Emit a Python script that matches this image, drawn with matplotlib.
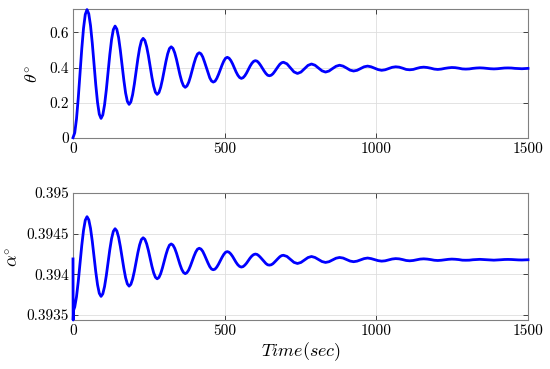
import numpy as np
import matplotlib
matplotlib.use('Agg')
import matplotlib.pyplot as plt

# sample times (sec): eighth steps between turning points up to ~690 s,
# quarter steps after that, plus the end point
time_sec = np.concatenate([np.arange(120) * 5.78125,
                           693.75 + np.arange(70) * 11.5625,
                           [1500.0]])

# theta (deg)
theta_deg = [
    0.000, 0.028, 0.107, 0.225, 0.365, 0.505, 0.623, 0.702,
    0.730, 0.706, 0.639, 0.539, 0.420, 0.301, 0.201, 0.134,
    0.110, 0.130, 0.187, 0.272, 0.373, 0.474, 0.559, 0.616,
    0.636, 0.619, 0.571, 0.498, 0.413, 0.328, 0.255, 0.207,
    0.190, 0.204, 0.245, 0.306, 0.378, 0.450, 0.511, 0.552,
    0.566, 0.554, 0.519, 0.468, 0.407, 0.345, 0.294, 0.259,
    0.247, 0.257, 0.287, 0.331, 0.383, 0.434, 0.478, 0.508,
    0.518, 0.509, 0.484, 0.447, 0.403, 0.358, 0.321, 0.296,
    0.287, 0.295, 0.316, 0.348, 0.386, 0.423, 0.455, 0.477,
    0.484, 0.478, 0.460, 0.432, 0.401, 0.369, 0.341, 0.323,
    0.317, 0.322, 0.338, 0.361, 0.388, 0.414, 0.437, 0.453,
    0.458, 0.453, 0.440, 0.421, 0.398, 0.375, 0.356, 0.343,
    0.338, 0.342, 0.353, 0.369, 0.389, 0.408, 0.424, 0.435,
    0.439, 0.436, 0.426, 0.412, 0.396, 0.380, 0.366, 0.356,
    0.353, 0.356, 0.364, 0.377, 0.392, 0.406, 0.419, 0.427,
    0.430, 0.421, 0.398, 0.375,
    0.366, 0.374, 0.393, 0.412,
    0.420, 0.413, 0.397, 0.381,
    0.374, 0.380, 0.394, 0.407,
    0.413, 0.408, 0.397, 0.385,
    0.380, 0.384, 0.394, 0.404,
    0.408, 0.404, 0.396, 0.388,
    0.384, 0.387, 0.394, 0.401,
    0.404, 0.402, 0.396, 0.389,
    0.387, 0.389, 0.395, 0.400,
    0.402, 0.400, 0.396, 0.391,
    0.389, 0.391, 0.395, 0.398,
    0.400, 0.399, 0.396, 0.392,
    0.391, 0.392, 0.395, 0.397,
    0.398, 0.397, 0.395, 0.393,
    0.392, 0.393, 0.395, 0.397,
    0.3975, 0.397, 0.395, 0.394,
    0.393, 0.394, 0.395,
]

# alpha (deg) (initial jump at t=0)
alpha_time = np.concatenate([[0.0, 0.5, 2.0], time_sec[1:]])
alpha_deg = [
    0.394190, 0.393440, 0.393560,
    0.393600, 0.393725, 0.393911, 0.394133, 0.394354, 0.394540, 0.394665,
    0.394709, 0.394671, 0.394566, 0.394408, 0.394220, 0.394031, 0.393873, 0.393768,
    0.393730, 0.393761, 0.393851, 0.393986, 0.394145, 0.394305, 0.394439, 0.394529,
    0.394561, 0.394534, 0.394458, 0.394343, 0.394208, 0.394074, 0.393959, 0.393883,
    0.393856, 0.393878, 0.393943, 0.394039, 0.394153, 0.394267, 0.394363, 0.394428,
    0.394450, 0.394431, 0.394376, 0.394295, 0.394199, 0.394101, 0.394020, 0.393965,
    0.393946, 0.393962, 0.394009, 0.394079, 0.394161, 0.394242, 0.394311, 0.394359,
    0.394374, 0.394360, 0.394321, 0.394262, 0.394193, 0.394122, 0.394063, 0.394024,
    0.394009, 0.394022, 0.394055, 0.394106, 0.394166, 0.394224, 0.394275, 0.394310,
    0.394321, 0.394311, 0.394283, 0.394238, 0.394189, 0.394139, 0.394095, 0.394066,
    0.394057, 0.394065, 0.394090, 0.394126, 0.394169, 0.394210, 0.394246, 0.394272,
    0.394280, 0.394272, 0.394251, 0.394221, 0.394185, 0.394148, 0.394118, 0.394098,
    0.394090, 0.394096, 0.394114, 0.394139, 0.394171, 0.394201, 0.394226, 0.394243,
    0.394250, 0.394245, 0.394229, 0.394207, 0.394182, 0.394156, 0.394134, 0.394118,
    0.394114, 0.394118, 0.394131, 0.394152, 0.394175, 0.394197, 0.394218, 0.394231,
    0.394235, 0.394221, 0.394185, 0.394148,
    0.394134, 0.394147, 0.394177, 0.394207,
    0.394220, 0.394208, 0.394183, 0.394158,
    0.394147, 0.394156, 0.394178, 0.394199,
    0.394208, 0.394201, 0.394183, 0.394164,
    0.394156, 0.394163, 0.394178, 0.394194,
    0.394201, 0.394194, 0.394182, 0.394169,
    0.394163, 0.394167, 0.394178, 0.394189,
    0.394194, 0.394191, 0.394182, 0.394171,
    0.394167, 0.394171, 0.394180, 0.394188,
    0.394191, 0.394188, 0.394182, 0.394174,
    0.394171, 0.394174, 0.394180, 0.394185,
    0.394188, 0.394186, 0.394182, 0.394175,
    0.394174, 0.394175, 0.394180, 0.394183,
    0.394185, 0.394183, 0.394180, 0.394177,
    0.394175, 0.394177, 0.394180, 0.394183,
    0.394184, 0.394183, 0.394180, 0.394178,
    0.394177, 0.394178, 0.394180,
]

x_ticks = [0, 500, 1000, 1500]
theta_ticks = [0, 0.2, 0.4, 0.6]
theta_ticklabels = ['0', '0.2', '0.4', '0.6']
alpha_ticks = [0.3935, 0.394, 0.3945, 0.395]
alpha_ticklabels = ['0.3935', '0.394', '0.3945', '0.395']

plt.rcParams['font.family'] = 'serif'
plt.rcParams['font.serif'] = ['cmr10', 'DejaVu Serif']
plt.rcParams['mathtext.fontset'] = 'cm'
plt.rcParams['axes.formatter.use_mathtext'] = True

fig = plt.figure(figsize=(5.5, 3.69), dpi=100)
ax1 = fig.add_axes([0.1327, 0.6268, 0.8273, 0.348])
ax2 = fig.add_axes([0.1327, 0.1328, 0.8273, 0.3442])

edge = '#262626'
for ax in (ax1, ax2):
    ax.set_xlim(0, 1500)
    ax.set_xticks(x_ticks)
    ax.set_xticklabels([str(v) for v in x_ticks])
    ax.grid(True, color='#dedede', linewidth=0.6)
    ax.set_axisbelow(True)
    ax.tick_params(direction='in', top=True, right=True, length=3.5,
                   width=0.6, color=edge, labelsize=11, pad=3)
    for s in ax.spines.values():
        s.set_color('#808080')
        s.set_linewidth(0.8)

ax1.plot(time_sec, theta_deg, color='#0000ff', linewidth=2.0,
         zorder=3, clip_on=False)
ax1.set_ylim(0, 0.7316)
ax1.set_yticks(theta_ticks)
ax1.set_yticklabels(theta_ticklabels)
ax1.set_ylabel(r'$\theta^{\circ}$', fontsize=13, labelpad=6)

ax2.plot(alpha_time, alpha_deg, color='#0000ff', linewidth=2.0,
         zorder=3, clip_on=False)
ax2.set_ylim(0.39344, 0.395)
ax2.set_yticks(alpha_ticks)
ax2.set_yticklabels(alpha_ticklabels)
ax2.set_ylabel(r'$\alpha^{\circ}$', fontsize=13, labelpad=4)
ax2.set_xlabel(r'$Time(sec)$', fontsize=13, labelpad=2)

fig.savefig('out.png', dpi=100)
